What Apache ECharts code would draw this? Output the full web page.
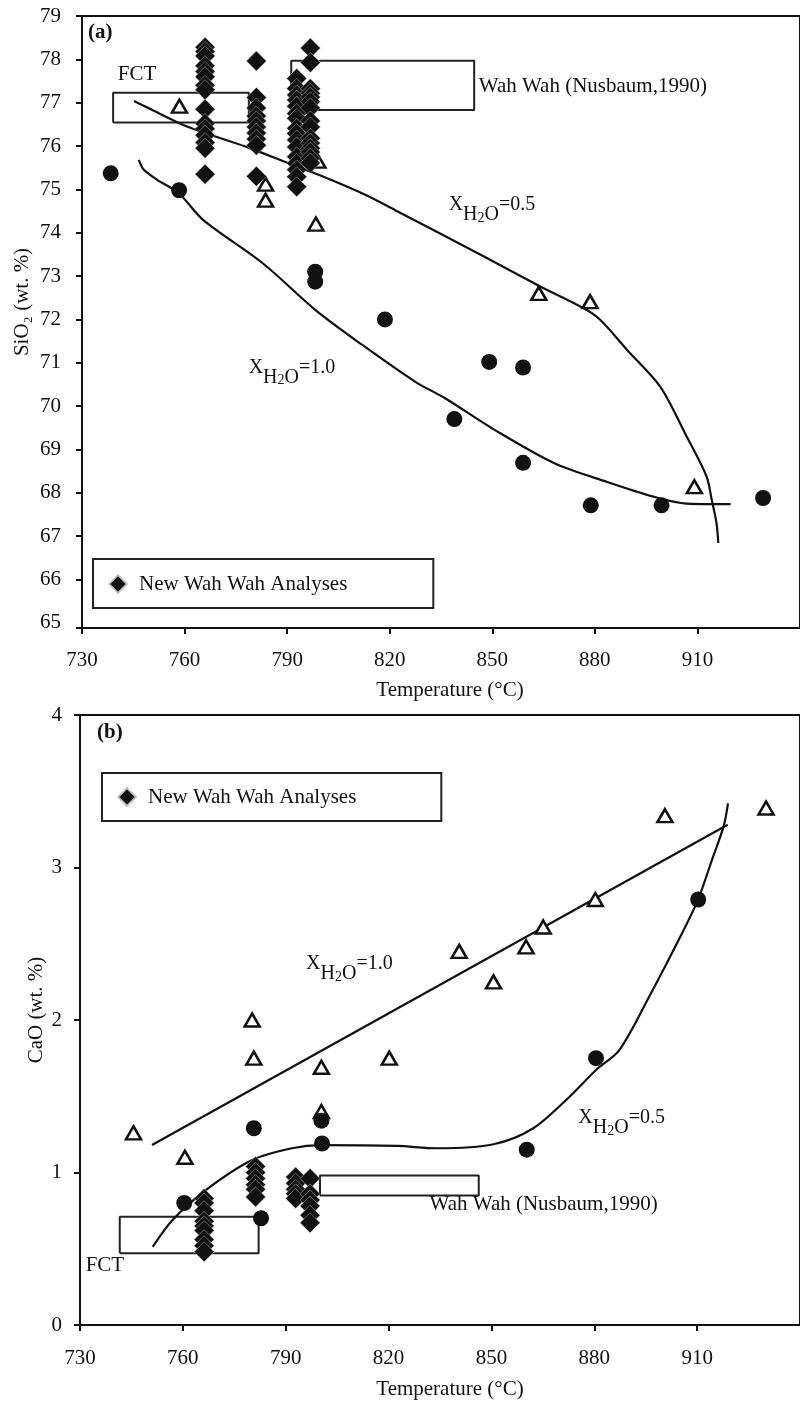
<!DOCTYPE html>
<html>
<head>
<meta charset="utf-8">
<script src="https://cdn.jsdelivr.net/npm/echarts@6/dist/echarts.min.js"></script>
<style>
  html, body { margin: 0; padding: 0; background: #fff; }
  #chart { width: 800px; height: 1401px; }
</style>
</head>
<body>
<div id="chart"></div>
<script>
// ---------- axis ticks ----------
const tempTicks = [730, 760, 790, 820, 850, 880, 910, 940];
const silicaTicks = [65, 66, 67, 68, 69, 70, 71, 72, 73, 74, 75, 76, 77, 78, 79];
const caoTicks = [0, 1, 2, 3, 4];

// ---------- (a) SiO2 vs temperature ----------
// experiments, X(H2O) = 1.0 (filled circles)
const circlesA_T = [738.4, 758.4, 798.2, 798.2, 818.6, 849.1, 859.0, 838.9, 859.0, 878.8, 899.5, 929.2];
const circlesA_Si = [75.37, 74.98, 73.10, 72.87, 72.00, 71.02, 70.89, 69.70, 68.69, 67.71, 67.71, 67.88];
// experiments, X(H2O) = 0.5 (open triangles)
const trianglesA_T = [758.5, 783.7, 783.7, 798.4, 799.0, 863.6, 878.6, 909.1];
const trianglesA_Si = [76.92, 75.12, 74.75, 74.20, 75.65, 72.60, 72.41, 68.14];
// new Wah Wah analyses, grouped by temperature estimate
const wahColumnsA_T = [766.0, 781.0, 792.8, 796.8];
const wahColumnsA_Si = [
  [78.28, 78.18, 78.08, 77.85, 77.72, 77.60, 77.40, 77.30, 76.85, 76.52, 76.40, 76.25, 76.08, 75.95, 75.35],
  [77.96, 77.12, 76.88, 76.69, 76.58, 76.44, 76.30, 76.16, 76.02, 75.30],
  [77.56, 77.33, 77.18, 77.06, 76.92, 76.75, 76.64, 76.41, 76.29, 76.14, 75.98, 75.75, 75.60, 75.45, 75.29, 75.06],
  [78.26, 77.93, 77.32, 77.22, 77.13, 77.02, 76.88, 76.58, 76.44, 76.18, 76.07, 75.95, 75.86, 75.72, 75.61]
];
// fitted trends
const curve05A = [[745.2, 77.04], [749.1, 76.89], [760.7, 76.45], [778.1, 75.98], [791.7, 75.56], [799.4, 75.33],
  [813.0, 74.87], [821.6, 74.52], [845.9, 73.52], [863.3, 72.79], [876.9, 72.25], [881.7, 71.98], [889.5, 71.29],
  [899.2, 70.44], [906.9, 69.29], [912.7, 68.37], [914.2, 67.83], [915.6, 67.29], [916.1, 66.84]];
const curve10A = [[746.6, 75.68], [748.1, 75.45], [752.0, 75.22], [758.3, 74.91], [765.5, 74.29], [782.95, 73.29],
  [798.4, 72.21], [812.0, 71.41], [827.5, 70.56], [836.2, 70.18], [850.7, 69.45], [868.2, 68.68], [883.6, 68.25],
  [897.2, 67.91], [906.9, 67.75], [913.7, 67.74], [919.7, 67.74]];
// composition fields
const fctA_T = [739.1, 778.8], fctA_Si = [76.54, 77.23];
const nusbaumA_T = [791.2, 844.7], nusbaumA_Si = [76.83, 77.97];

// ---------- (b) CaO vs temperature ----------
const circlesB_T = [760.4, 780.7, 782.8, 800.4, 800.6, 860.3, 880.5, 910.3];
const circlesB_Ca = [0.80, 1.29, 0.70, 1.34, 1.19, 1.15, 1.75, 2.79];
const trianglesB_T = [745.6, 760.6, 780.2, 780.7, 800.4, 800.4, 820.2, 840.6, 850.6, 860.1, 865.1, 880.3, 900.6, 930.1];
const trianglesB_Ca = [1.26, 1.10, 2.00, 1.75, 1.69, 1.40, 1.75, 2.45, 2.25, 2.48, 2.61, 2.79, 3.34, 3.39];
const wahColumnsB_T = [766.2, 781.2, 792.9, 797.1];
const wahColumnsB_Ca = [
  [0.83, 0.80, 0.75, 0.68, 0.65, 0.62, 0.56, 0.52, 0.48],
  [1.04, 1.00, 0.96, 0.92, 0.89, 0.84],
  [0.97, 0.93, 0.89, 0.86, 0.83],
  [0.96, 0.86, 0.82, 0.78, 0.72, 0.67]
];
const line10B = [[751.0, 1.18], [918.9, 3.28]];
const curve05B = [[751.2, 0.513], [757.0, 0.689], [766.7, 0.885], [780.2, 1.082], [791.8, 1.159], [800.4, 1.180],
  [822.6, 1.174], [834.2, 1.159], [850.6, 1.185], [862.2, 1.290], [872.8, 1.497], [880.5, 1.672], [887.3, 1.803],
  [896.0, 2.153], [905.6, 2.569], [910.3, 2.791], [914.3, 3.049], [917.7, 3.268], [919.0, 3.421]];
const fctB_T = [741.6, 782.1], fctB_Ca = [0.47, 0.71];
const nusbaumB_T = [800.0, 846.3], nusbaumB_Ca = [0.85, 0.98];

// ---------- helpers ----------
const INK = '#111';
const FONT = '"Liberation Serif", "Times New Roman", serif';
const LEGEND_NAME = 'New Wah Wah Analyses';
const silicaMin = 64.88;   // plot floor sits a little below the 65 tick

const zip = (xs, ys) => xs.map((x, i) => [x, ys[i]]);
const columns = (ts, cols) => cols.flatMap((c, i) => c.map(v => [ts[i], v]));
const rectPath = (xs, ys) => [[xs[0], ys[0]], [xs[1], ys[0]], [xs[1], ys[1]], [xs[0], ys[1]], [xs[0], ys[0]]];

function curve(idx, data, smooth) {
  return { type: 'line', xAxisIndex: idx, yAxisIndex: idx, data, smooth, symbol: 'none', silent: true, z: 2,
    lineStyle: { color: INK, width: 2.2 } };
}
function box(idx, xs, ys) {
  return { type: 'line', xAxisIndex: idx, yAxisIndex: idx, data: rectPath(xs, ys), symbol: 'none', silent: true, z: 1,
    lineStyle: { color: '#222', width: 2 } };
}
function circles(idx, data) {
  return { type: 'scatter', xAxisIndex: idx, yAxisIndex: idx, data, symbol: 'circle', symbolSize: 16, z: 4,
    itemStyle: { color: INK, opacity: 1 } };
}
function triangles(idx, data) {
  return { type: 'scatter', xAxisIndex: idx, yAxisIndex: idx, data, symbol: 'triangle', symbolSize: [15, 13], z: 3,
    itemStyle: { color: '#fff', borderColor: INK, borderWidth: 2.5, opacity: 1 } };
}
function diamonds(idx, data) {
  return { type: 'scatter', name: LEGEND_NAME, xAxisIndex: idx, yAxisIndex: idx, data, symbol: 'diamond', symbolSize: 20, z: 5,
    itemStyle: { color: INK, borderColor: 'rgba(200,200,200,0.9)', borderWidth: 0.5, opacity: 1 } };
}
// "X" sits on the main line, "H2O" is dropped below it, the "2" a little further
const waterRich = {
  x: { fontFamily: FONT, fontSize: 20, color: INK, lineHeight: 20, verticalAlign: 'top' },
  h: { fontFamily: FONT, fontSize: 20, color: INK, lineHeight: 30, verticalAlign: 'bottom' },
  s: { fontFamily: FONT, fontSize: 14, color: INK, lineHeight: 30, verticalAlign: 'bottom' }
};
function note(idx, coord, text, rich) {
  return { type: 'scatter', xAxisIndex: idx, yAxisIndex: idx, data: [coord], symbolSize: 1, silent: true, z: 6,
    itemStyle: { color: 'rgba(0,0,0,0)', opacity: 1 },
    label: { show: true, position: 'right', distance: 0, formatter: text, fontFamily: FONT, fontSize: 21,
      color: INK, opacity: 1, lineHeight: 22, rich: rich || {} } };
}
const waterLabel = v => '{x|X}{h|H}{s|2}{h|O}{x|=' + v + '}';

function tempAxis(idx, labelMargin, nameGap, nameShift) {
  return {
    type: 'value', gridIndex: idx, min: tempTicks[0], max: tempTicks[tempTicks.length - 1], interval: 30,
    axisLine: { show: true, onZero: false, lineStyle: { color: INK, width: 2 } },
    axisTick: { show: true, length: 6, lineStyle: { color: INK, width: 2 } },
    axisLabel: { margin: labelMargin, fontFamily: FONT, fontSize: 21, color: INK, lineHeight: 22, showMaxLabel: false },
    splitLine: { show: false },
    name: 'Temperature (°C)', nameLocation: 'middle', nameGap, nameMoveOverlap: false,
    nameTextStyle: { fontFamily: FONT, fontSize: 21, color: INK, lineHeight: 22, padding: [0, 0, 0, nameShift] }
  };
}
function legendBox(left, top, padding) {
  return { left, top, orient: 'horizontal', selectedMode: false, data: [{ name: LEGEND_NAME, icon: 'diamond' }],
    itemWidth: 18, itemHeight: 18, padding, borderColor: '#222', borderWidth: 2,
    textStyle: { fontFamily: FONT, fontSize: 21, color: INK, lineHeight: 22, padding: [0, 0, 0, 7] } };
}

const option = {
  animation: false,
  backgroundColor: '#fff',
  grid: [
    { left: 82, top: 16, width: 725, height: 612, show: true, borderColor: INK, borderWidth: 2 },
    { left: 80, top: 715, width: 725, height: 610, show: true, borderColor: INK, borderWidth: 2 }
  ],
  xAxis: [tempAxis(0, 21, 51, 18), tempAxis(1, 22, 53, 20)],
  yAxis: [
    {
      type: 'value', gridIndex: 0, min: silicaMin, max: silicaTicks[silicaTicks.length - 1],
      axisLine: { show: true, onZero: false, lineStyle: { color: INK, width: 2 } },
      axisTick: { show: true, length: 6, lineStyle: { color: INK, width: 2 },
        customValues: [silicaMin].concat(silicaTicks.slice(1)) },
      axisLabel: { margin: 21, fontFamily: FONT, fontSize: 21, color: INK, customValues: silicaTicks },
      splitLine: { show: false },
      name: 'SiO₂ (wt. %)', nameLocation: 'middle', nameGap: 49, nameRotate: 90, nameMoveOverlap: false,
      nameTextStyle: { fontFamily: FONT, fontSize: 21, color: INK, lineHeight: 22, padding: [0, 0, 0, 40] }
    },
    {
      type: 'value', gridIndex: 1, min: caoTicks[0], max: caoTicks[caoTicks.length - 1], interval: 1,
      axisLine: { show: true, onZero: false, lineStyle: { color: INK, width: 2 } },
      axisTick: { show: true, length: 6, lineStyle: { color: INK, width: 2 } },
      axisLabel: { margin: 18, fontFamily: FONT, fontSize: 21, color: INK },
      splitLine: { show: false },
      name: 'CaO (wt. %)', nameLocation: 'middle', nameGap: 33, nameRotate: 90, nameMoveOverlap: false,
      nameTextStyle: { fontFamily: FONT, fontSize: 21, color: INK, lineHeight: 22, padding: [0, 0, 0, 20] }
    }
  ],
  legend: [
    legendBox(93, 559, [14, 86, 13, 15]),
    legendBox(102, 773, [13, 85, 13, 15])
  ],
  graphic: [
    { type: 'text', left: 88, top: 22, style: { text: '(a)', font: 'bold 21px ' + FONT, fill: INK } },
    { type: 'text', left: 97, top: 722, style: { text: '(b)', font: 'bold 21px ' + FONT, fill: INK } }
  ],
  series: [
    // panel (a)
    box(0, fctA_T, fctA_Si),
    box(0, nusbaumA_T, nusbaumA_Si),
    curve(0, curve05A, 0.3),
    curve(0, curve10A, 0.3),
    triangles(0, zip(trianglesA_T, trianglesA_Si)),
    circles(0, zip(circlesA_T, circlesA_Si)),
    diamonds(0, columns(wahColumnsA_T, wahColumnsA_Si)),
    note(0, [740.3, 77.65], 'FCT'),
    note(0, [845.9, 77.38], 'Wah Wah (Nusbaum,1990)'),
    note(0, [837.1, 74.52], waterLabel('0.5'), waterRich),
    note(0, [778.6, 70.77], waterLabel('1.0'), waterRich),
    // panel (b)
    box(1, fctB_T, fctB_Ca),
    box(1, nusbaumB_T, nusbaumB_Ca),
    curve(1, line10B, false),
    curve(1, curve05B, 0.3),
    triangles(1, zip(trianglesB_T, trianglesB_Ca)),
    circles(1, zip(circlesB_T, circlesB_Ca)),
    diamonds(1, columns(wahColumnsB_T, wahColumnsB_Ca)),
    note(1, [731.5, 0.387], 'FCT'),
    note(1, [831.8, 0.787], 'Wah Wah (Nusbaum,1990)'),
    note(1, [795.8, 2.334], waterLabel('1.0'), waterRich),
    note(1, [875.2, 1.324], waterLabel('0.5'), waterRich)
  ]
};

const chart = echarts.init(document.getElementById('chart'), null, { renderer: 'canvas' });
chart.setOption(option);
</script>
</body>
</html>
